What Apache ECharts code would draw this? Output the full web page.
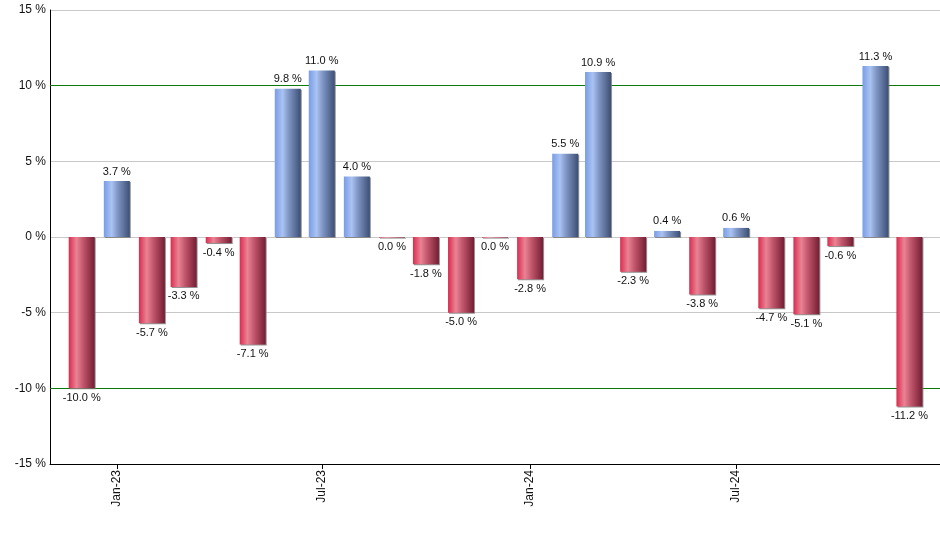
<!DOCTYPE html>
<html>
<head>
<meta charset="utf-8">
<script src="https://cdn.jsdelivr.net/npm/echarts@6/dist/echarts.min.js"></script>
<style>html,body{margin:0;padding:0;background:#fff}#c{width:940px;height:550px}</style>
</head>
<body>
<div id="c"></div>
<script>
// Month starts (year, month index 0-11)
const months = [
  [2022,11],[2023,0],[2023,1],[2023,2],[2023,3],[2023,4],[2023,5],[2023,6],[2023,7],[2023,8],[2023,9],[2023,10],[2023,11],
  [2024,0],[2024,1],[2024,2],[2024,3],[2024,4],[2024,5],[2024,6],[2024,7],[2024,8],[2024,9],[2024,10],[2024,11]
];
const values = [-10.0, 3.7, -5.7, -3.3, -0.4, -7.1, 9.8, 11.0, 4.0, -0.04, -1.8, -5.0, -0.04,
  -2.8, 5.5, 10.9, -2.3, 0.4, -3.8, 0.6, -4.7, -5.1, -0.6, 11.3, -11.2];
const tickMonths = [[2023,0],[2023,6],[2024,0],[2024,6]];
const refLines = [10, -10];
const monthNames = ['Jan','Feb','Mar','Apr','May','Jun','Jul','Aug','Sep','Oct','Nov','Dec'];

const DAY = 86400000;
const BASE = Date.UTC(2023, 0, 1);
const dayOf = (ym) => Math.round((Date.UTC(ym[0], ym[1], 1) - BASE) / DAY);
const xMin = -59;
const xMax = dayOf([2024,11]) + 27;
const labelOf = (d) => { const dt = new Date(BASE + d * DAY); return monthNames[dt.getUTCMonth()] + '-' + String(dt.getUTCFullYear()).slice(2); };

const redGrad = {type:'linear',x:0,y:0,x2:1,y2:0,colorStops:[
  {offset:0,color:'#d92c4e'},{offset:0.3,color:'#ea8394'},{offset:0.55,color:'#c2576c'},{offset:1,color:'#741d33'}]};
const blueGrad = {type:'linear',x:0,y:0,x2:1,y2:0,colorStops:[
  {offset:0,color:'#789ce6'},{offset:0.3,color:'#aac3f2'},{offset:0.55,color:'#7d93c2'},{offset:1,color:'#3c4f75'}]};

const data = months.map((m,i) => ({
  value: [dayOf(m), values[i]],
  itemStyle: {color: values[i] >= 0 ? blueGrad : redGrad},
  label: {position: values[i] >= 0 ? 'top' : 'bottom'}
}));

const fmt = v => { let s = v.toFixed(1); if (s === '-0.0') s = '0.0'; return s + ' %'; };
const tickDays = tickMonths.map(dayOf);

const chart = echarts.init(document.getElementById('c'), null, {renderer:'canvas'});
chart.setOption({
  animation: false,
  textStyle: {fontFamily: 'Liberation Sans, Arial, sans-serif'},
  grid: {left: 50, right: 0, top: 10, bottom: 86, containLabel: false},
  xAxis: {
    type: 'value', min: xMin, max: xMax,
    axisLine: {show: true, onZero: false, lineStyle: {color: '#000', width: 1}},
    axisTick: {show: true, length: 5, lineStyle: {color: '#000'}, customValues: tickDays},
    axisLabel: {
      customValues: tickDays, rotate: 90, color: '#111', fontSize: 12, margin: 6,
      fontFamily: 'Liberation Sans, Arial, sans-serif',
      formatter: v => labelOf(v)
    },
    splitLine: {show: false}
  },
  yAxis: {
    type: 'value', min: -15, max: 15, interval: 5,
    axisLine: {show: true, onZero: false, lineStyle: {color: '#000', width: 1}},
    axisTick: {show: false},
    axisLabel: {color: '#111', fontSize: 12, margin: 4, formatter: '{value} %', fontFamily: 'Liberation Sans, Arial, sans-serif'},
    splitLine: {show: true, lineStyle: {width: 1, color: '#c8c8c8'}}
  },
  series: [{
    type: 'bar', barWidth: 26, data: data,
    itemStyle: {shadowColor: 'rgba(120,120,120,0.8)', shadowOffsetX: 1, shadowOffsetY: 1, shadowBlur: 0},
    label: {show: true, fontSize: 11, color: '#111', distance: 4,
      fontFamily: 'Liberation Sans, Arial, sans-serif',
      formatter: p => fmt(p.value[1])},
    markLine: {
      silent: true, symbol: 'none', label: {show: false}, z: 1,
      lineStyle: {type: 'solid', width: 1, color: '#0b7a0b'},
      data: refLines.map(v => ({yAxis: v}))
    }
  }]
});
</script>
</body>
</html>
